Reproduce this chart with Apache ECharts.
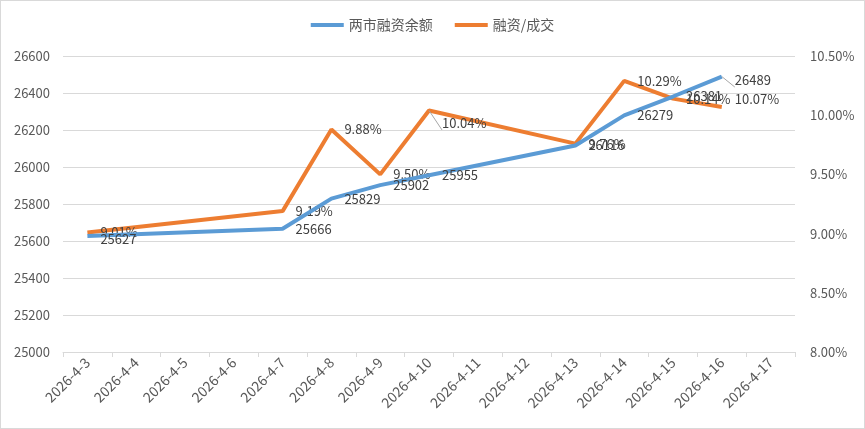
<!DOCTYPE html>
<html>
<head>
<meta charset="utf-8">
<script src="https://cdn.jsdelivr.net/npm/echarts@6/dist/echarts.min.js"></script>
<style>
html,body{margin:0;padding:0;background:#fff;}
#wrap{width:865px;height:429px;box-sizing:border-box;border:1px solid #d9d9d9;}
#main{width:863px;height:427px;}
</style>
</head>
<body>
<div id="wrap"><div id="main"></div></div>
<script>
var categories = ['2026-4-3','2026-4-4','2026-4-5','2026-4-6','2026-4-7','2026-4-8','2026-4-9','2026-4-10','2026-4-11','2026-4-12','2026-4-13','2026-4-14','2026-4-15','2026-4-16','2026-4-17'];
var balance = [25627, null, null, null, 25666, 25829, 25902, 25955, null, null, 26116, 26279, 26381, 26489, null];
var ratio = [9.01, null, null, null, 9.19, 9.88, 9.50, 10.04, null, null, 9.76, 10.29, 10.14, 10.07, null];
var seriesNames = ['两市融资余额', '融资/成交'];

var balanceLabelOffsets = {0: [0, 3], 13: [0, 4]};
var ratioLabelOffsets = {7: [0, 13], 13: [0, -8]};
var balanceLeader = {13: true};
var ratioLeader = {7: true};

function buildData(values, offsets, leaders) {
  return values.map(function (v, i) {
    if (v === null) return null;
    var item = {value: v};
    if (offsets[i]) {
      item.label = {offset: offsets[i]};
    }
    if (leaders[i]) {
      item.labelLine = {show: true, lineStyle: {color: '#a6a6a6', width: 1}};
    }
    return item;
  });
}

var FONT = '"Noto Sans CJK SC", "Noto Sans", sans-serif';
var chart = echarts.init(document.getElementById('main'));
chart.setOption({
  animation: false,
  textStyle: {fontFamily: FONT},
  legend: {
    top: 12,
    left: 'center',
    itemWidth: 33,
    itemHeight: 4,
    itemGap: 22,
    icon: 'rect',
    textStyle: {fontSize: 14, color: '#595959', fontFamily: FONT},
    data: seriesNames
  },
  grid: {left: 62, right: 69, top: 55, bottom: 76},
  xAxis: {
    type: 'category',
    data: categories,
    boundaryGap: true,
    axisLine: {lineStyle: {color: '#d9d9d9'}},
    axisTick: {show: true, length: 5, lineStyle: {color: '#d9d9d9'}},
    axisLabel: {rotate: 45, color: '#595959', fontSize: 14, interval: 0, margin: 8, fontFamily: FONT}
  },
  yAxis: [{
    type: 'value',
    min: 25000, max: 26600, interval: 200,
    axisLine: {show: false},
    axisTick: {show: false},
    axisLabel: {color: '#595959', fontSize: 13, margin: 13, fontFamily: FONT,
      formatter: function (v) { return String(v); }},
    splitLine: {lineStyle: {color: '#d9d9d9'}}
  }, {
    type: 'value',
    min: 8, max: 10.5, interval: 0.5,
    axisLine: {show: false},
    axisTick: {show: false},
    splitLine: {show: false},
    axisLabel: {color: '#595959', fontSize: 13, margin: 15, fontFamily: FONT,
      formatter: function (v) { return v.toFixed(2) + '%'; }}
  }],
  series: [{
    name: seriesNames[0],
    type: 'line',
    yAxisIndex: 0,
    data: buildData(balance, balanceLabelOffsets, balanceLeader),
    connectNulls: true,
    showSymbol: true,
    symbol: 'circle',
    symbolSize: 0,
    lineStyle: {width: 4, color: '#5B9BD5'},
    itemStyle: {color: '#5B9BD5'},
    label: {show: true, position: 'right', distance: 13, color: '#404040', fontSize: 13, fontFamily: FONT},
    z: 3
  }, {
    name: seriesNames[1],
    type: 'line',
    yAxisIndex: 1,
    data: buildData(ratio, ratioLabelOffsets, ratioLeader),
    connectNulls: true,
    showSymbol: true,
    symbol: 'circle',
    symbolSize: 0,
    lineStyle: {width: 4, color: '#ED7D31'},
    itemStyle: {color: '#ED7D31'},
    label: {show: true, position: 'right', distance: 13, color: '#404040', fontSize: 13, fontFamily: FONT,
      formatter: function (p) { return p.value.toFixed(2) + '%'; }},
    z: 2
  }]
});
</script>
</body>
</html>
